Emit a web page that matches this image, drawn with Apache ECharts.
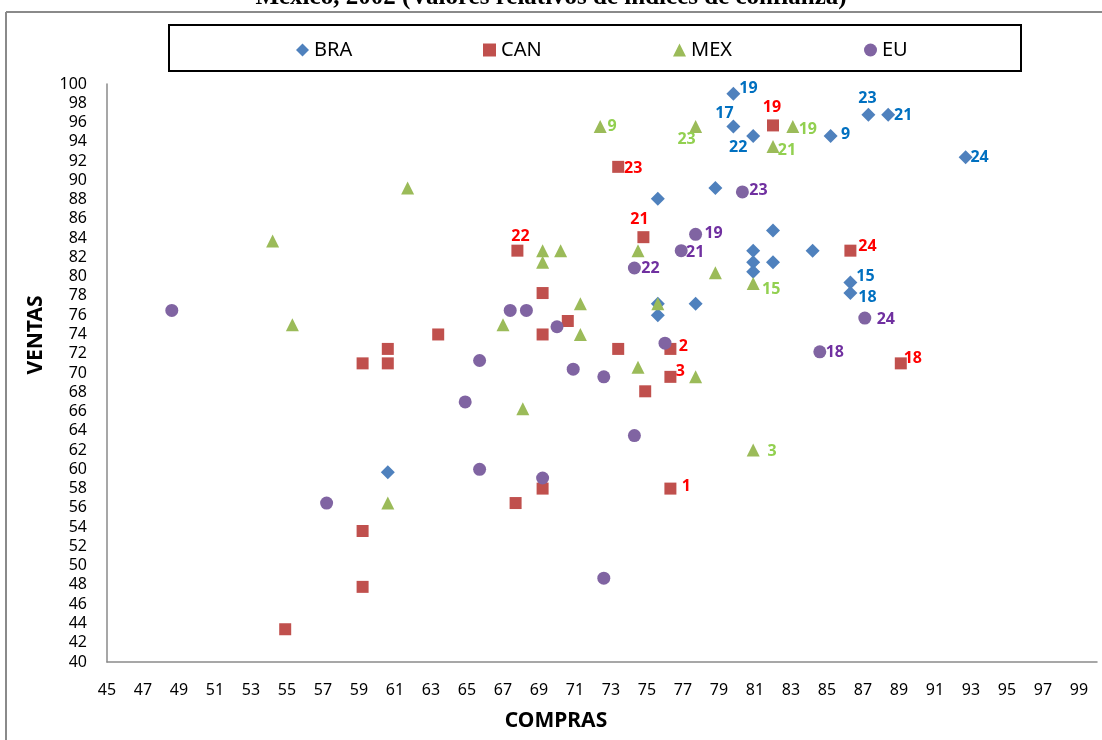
<!DOCTYPE html>
<html>
<head>
<meta charset="utf-8">
<title>Compras vs Ventas</title>
<script src="https://cdn.jsdelivr.net/npm/echarts@6/dist/echarts.min.js"></script>
<style>
  html, body { margin: 0; padding: 0; background: #fff; }
  #chart { width: 1102px; height: 740px; }
</style>
</head>
<body>
<div id="chart"></div>
<script>
// [compras, ventas, etiqueta]
var braData = [
    [79.8, 99.0, '19'], [79.8, 95.6, '17'], [80.9, 94.6, '22'], [85.2, 94.6, '9'],
    [87.3, 96.8, '23'], [88.4, 96.8, '21'], [92.7, 92.4, '24'], [75.6, 88.1, ''],
    [78.8, 89.2, ''], [82.0, 84.8, ''], [80.9, 82.7, ''], [80.9, 81.5, ''],
    [80.9, 80.5, ''], [82.0, 81.5, ''], [84.2, 82.7, ''], [86.3, 79.4, '15'],
    [86.3, 78.3, '18'], [75.6, 77.2, ''], [75.6, 76.0, ''], [77.7, 77.2, ''],
    [60.6, 59.7, '']
];
var canData = [
    [82.0, 95.7, '19'], [73.4, 91.4, '23'], [74.8, 84.1, '21'], [67.8, 82.7, '22'],
    [86.3, 82.7, '24'], [69.2, 78.3, ''], [70.6, 75.4, ''], [63.4, 74.0, ''],
    [69.2, 74.0, ''], [60.6, 72.5, ''], [60.6, 71.0, ''], [59.2, 71.0, ''],
    [73.4, 72.5, ''], [76.3, 72.5, '2'], [76.3, 69.6, '3'], [74.9, 68.1, ''],
    [89.1, 71.0, '18'], [76.3, 58.0, '1'], [69.2, 58.0, ''], [67.7, 56.5, ''],
    [59.2, 53.6, ''], [59.2, 47.8, ''], [54.9, 43.4, '']
];
var mexData = [
    [72.4, 95.6, '9'], [77.7, 95.6, '23'], [83.1, 95.6, '19'], [82.0, 93.5, '21'],
    [61.7, 89.2, ''], [54.2, 83.7, ''], [69.2, 82.7, ''], [69.2, 81.5, ''],
    [70.2, 82.7, ''], [74.5, 82.7, ''], [78.8, 80.4, ''], [80.9, 79.3, '15'],
    [71.3, 77.2, ''], [75.6, 77.2, ''], [67.0, 75.0, ''], [55.3, 75.0, ''],
    [71.3, 74.0, ''], [74.5, 70.6, ''], [77.7, 69.6, ''], [68.1, 66.3, ''],
    [80.9, 62.0, '3'], [60.6, 56.5, '']
];
var euData = [
    [80.3, 88.8, '23'], [77.7, 84.4, '19'], [76.9, 82.7, '21'], [74.3, 80.9, '22'],
    [48.6, 76.5, ''], [67.4, 76.5, ''], [68.3, 76.5, ''], [70.0, 74.8, ''],
    [87.1, 75.7, '24'], [76.0, 73.1, ''], [84.6, 72.2, '18'], [65.7, 71.3, ''],
    [70.9, 70.4, ''], [72.6, 69.6, ''], [64.9, 67.0, ''], [74.3, 63.5, ''],
    [65.7, 60.0, ''], [69.2, 59.1, ''], [57.2, 56.5, ''], [72.6, 48.7, '']
];
var xTicks = [45, 47, 49, 51, 53, 55, 57, 59, 61, 63, 65, 67, 69, 71, 73, 75, 77, 79, 81, 83, 85, 87, 89, 91, 93, 95, 97, 99];
var yTicks = [40, 42, 44, 46, 48, 50, 52, 54, 56, 58, 60, 62, 64, 66, 68, 70, 72, 74, 76, 78, 80, 82, 84, 86, 88, 90, 92, 94, 96, 98, 100];

// desplazamiento de cada etiqueta respecto al centro del marcador (px)
var labelOffset = {
    BRA: { '19': [15, -5], '17': [-9, -13], '22': [-15, 11], '9': [15, -2], '23': [-1, -16],
           '21': [15, 1], '24': [14, 0], '15': [15, -6], '18': [17, 4] },
    CAN: { '19': [-1, -18], '23': [15, 2], '21': [-4, -18], '22': [3, -14], '24': [17, -4],
           '2': [13, -2], '3': [10, -5], '18': [12, -5], '1': [16, -2] },
    MEX: { '9': [12, 0], '23': [-9, 13], '19': [15, 3], '21': [14, 4], '15': [18, 6], '3': [19, 1] },
    EU:  { '23': [16, -1], '19': [18, -1], '21': [14, 2], '22': [16, 0], '24': [21, 1], '18': [15, 1] }
};

var FONT = '"Noto Sans", "Open Sans", sans-serif';

function buildSeries(name, rows, symbol, size, color, labelColor) {
    return {
        name: name,
        type: 'scatter',
        symbol: symbol,
        symbolSize: size,
        itemStyle: { color: color, opacity: 1 },
        emphasis: { disabled: true },
        data: rows.map(function (r) {
            var item = { value: [r[0], r[1]] };
            if (r[2]) {
                item.label = {
                    show: true,
                    position: 'inside',
                    formatter: r[2],
                    offset: labelOffset[name][r[2]],
                    color: labelColor,
                    fontFamily: FONT,
                    fontWeight: 'bold',
                    fontSize: 16
                };
            }
            return item;
        })
    };
}

function legendAt(name, left) {
    return {
        data: [name],
        left: left,
        top: 35,
        itemWidth: 13,
        itemHeight: 13,
        selectedMode: false,
        textStyle: { fontFamily: FONT, fontSize: 20, color: '#000' }
    };
}

var myChart = echarts.init(document.getElementById('chart'));
var option = {
    animation: false,
    backgroundColor: '#fff',
    graphic: [
        { type: 'text', left: 'center', top: -15,
          style: { text: 'México, 2002 (Valores relativos de índices de confianza)',
                   font: 'bold 25px "Liberation Serif", serif', fill: '#000' } },
        { type: 'rect', shape: { x: 0, y: 11, width: 1102, height: 729 },
          style: { fill: '#fff' }, z: -1 },
        { type: 'line', shape: { x1: 6, y1: 12, x2: 1102, y2: 12 },
          style: { stroke: '#8a8a8a', lineWidth: 2 } },
        { type: 'line', shape: { x1: 6, y1: 12, x2: 6, y2: 740 },
          style: { stroke: '#8a8a8a', lineWidth: 2 } },
        { type: 'rect', shape: { x: 169, y: 25, width: 852, height: 46 },
          style: { fill: 'none', stroke: '#000', lineWidth: 2 } },
        { type: 'text', x: 36, y: 335, rotation: Math.PI / 2,
          style: { text: 'VENTAS', font: 'bold 21px ' + FONT, fill: '#000',
                   align: 'center', verticalAlign: 'middle' } },
        { type: 'text', x: 556, y: 721,
          style: { text: 'COMPRAS', font: 'bold 21px ' + FONT, fill: '#000',
                   align: 'center', verticalAlign: 'middle' } }
    ],
    legend: [
        legendAt('BRA', 291),
        legendAt('CAN', 478),
        legendAt('MEX', 668),
        legendAt('EU', 859)
    ],
    grid: { left: 107, right: 5, top: 84, bottom: 78 },
    xAxis: {
        type: 'value',
        min: 45,
        max: 100,
        interval: 1,
        axisTick: { show: false },
        splitLine: { show: false },
        axisLine: { show: true, lineStyle: { color: '#8a8a8a', width: 1.5 } },
        axisLabel: {
            margin: 20,
            fontFamily: FONT,
            fontSize: 16,
            color: '#000',
            formatter: function (v) { return xTicks.indexOf(v) >= 0 ? String(v) : ''; }
        }
    },
    yAxis: {
        type: 'value',
        min: 40,
        max: 100,
        interval: 2,
        axisTick: { show: false },
        splitLine: { show: false },
        axisLine: { show: true, lineStyle: { color: '#8a8a8a', width: 1.5 } },
        axisLabel: {
            margin: 20,
            fontFamily: FONT,
            fontSize: 16,
            color: '#000',
            formatter: function (v) { return yTicks.indexOf(v) >= 0 ? String(v) : ''; }
        }
    },
    series: [
        buildSeries('BRA', braData, 'diamond', 14, '#4F81BD', '#0070C0'),
        buildSeries('CAN', canData, 'rect', 12, '#C0504D', '#FF0000'),
        buildSeries('MEX', mexData, 'triangle', 13, '#9BBB59', '#92D050'),
        buildSeries('EU', euData, 'circle', 13, '#8064A2', '#7030A0')
    ]
};
myChart.setOption(option);
</script>
</body>
</html>
